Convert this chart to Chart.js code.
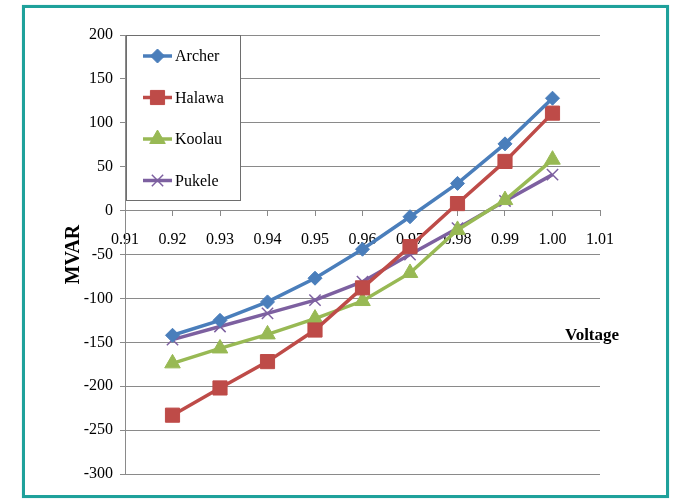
<!DOCTYPE html>
<html>
<head>
<meta charset="utf-8">
<script src="https://cdn.jsdelivr.net/npm/chart.js@4"></script>
<style>
  html, body { margin: 0; padding: 0; background: #ffffff; }
  #wrap { position: relative; width: 674px; height: 499px; }
  #frame {
    position: absolute; left: 22px; top: 5px; width: 641px; height: 487px;
    border: 3px solid #1fa19b; box-shadow: 0 0 1px #9fd6d3;
  }
  canvas { position: absolute; left: 0; top: 0; }
</style>
</head>
<body>
<div id="wrap">
  <div id="frame"></div>
  <canvas id="chart" width="674" height="499"></canvas>
</div>
<script>
// Reactive power (MVAR) against bus voltage (p.u.)
const voltages = [0.92, 0.93, 0.94, 0.95, 0.96, 0.97, 0.98, 0.99, 1.00];
const archer = [-142, -125, -104, -77, -44, -7, 31, 76, 128];
const halawa = [-233, -202, -172, -136, -88, -41, 8, 56, 111];
const koolau = [-174, -157, -141, -123, -103, -71, -22, 12, 58];
const pukele = [-147, -132, -117, -102, -81, -50, -20, 11, 41];

const xMin = 0.91, xMax = 1.01, xStep = 0.01;
const yMin = -300, yMax = 200, yStep = 50;

const SERIF = '"Liberation Serif", "Times New Roman", serif';
const GRID = '#8a8a8a';

function pts(values) {
  return voltages.map((v, i) => ({ x: v, y: values[i] }));
}

function series(label, values, color, style, radius, bw) {
  return {
    label,
    data: pts(values),
    borderColor: color,
    backgroundColor: color,
    pointBackgroundColor: color,
    pointBorderColor: color,
    pointStyle: style,
    pointRadius: radius,
    pointHoverRadius: radius,
    pointBorderWidth: bw,
    borderWidth: 3.5,
    tension: 0,
    fill: false
  };
}

// Legend box drawn inside the plot, top-left corner
const insideLegend = {
  id: 'insideLegend',
  afterDatasetsDraw(chart) {
    const { ctx, chartArea } = chart;
    const left = chartArea.left + 1, top = chartArea.top;
    const w = 114, h = 165;
    ctx.save();
    ctx.fillStyle = '#ffffff';
    ctx.fillRect(left, top, w, h);
    ctx.strokeStyle = '#6e6e6e';
    ctx.lineWidth = 1;
    ctx.strokeRect(left + 0.5, top + 0.5, w, h);
    chart.data.datasets.forEach((ds, i) => {
      const cy = top + 21 + i * 41.5;
      const x0 = left + 17, x1 = left + 46;
      ctx.strokeStyle = ds.borderColor;
      ctx.lineWidth = 3.5;
      ctx.beginPath();
      ctx.moveTo(x0, cy);
      ctx.lineTo(x1, cy);
      ctx.stroke();
      ctx.fillStyle = ds.pointBackgroundColor;
      ctx.strokeStyle = ds.pointBorderColor;
      ctx.lineWidth = ds.pointBorderWidth;
      Chart.helpers.drawPoint(ctx, {
        pointStyle: ds.pointStyle,
        radius: ds.pointRadius,
        borderWidth: ds.pointBorderWidth,
        rotation: 0
      }, (x0 + x1) / 2, cy);
      ctx.fillStyle = '#000000';
      ctx.font = '16px ' + SERIF;
      ctx.textAlign = 'left';
      ctx.textBaseline = 'middle';
      ctx.fillText(ds.label, x1 + 3, cy + 1);
    });
    ctx.restore();
  }
};

// Horizontal axis caption placed at the right of the plot
const voltageCaption = {
  id: 'voltageCaption',
  afterDraw(chart) {
    const { ctx, chartArea } = chart;
    ctx.save();
    ctx.fillStyle = '#000000';
    ctx.font = 'bold 17px ' + SERIF;
    ctx.textAlign = 'center';
    ctx.textBaseline = 'middle';
    ctx.fillText('Voltage', chartArea.right - 8, chartArea.top + 301);
    ctx.restore();
  }
};

new Chart(document.getElementById('chart'), {
  type: 'line',
  data: {
    datasets: [
      series('Archer', archer, '#4a7ebb', 'rectRot', 7, 1),
      series('Halawa', halawa, '#be4b48', 'rect', 10, 1),
      series('Koolau', koolau, '#98b954', 'triangle', 9, 1),
      series('Pukele', pukele, '#7d60a0', 'crossRot', 8, 1.5)
    ]
  },
  options: {
    responsive: false,
    animation: false,
    events: [],
    layout: { padding: { left: 0, top: 35, right: 74, bottom: 25 } },
    plugins: {
      legend: { display: false },
      tooltip: { enabled: false }
    },
    scales: {
      x: {
        type: 'linear',
        position: { y: 0 },
        min: xMin,
        max: xMax,
        ticks: {
          stepSize: xStep,
          padding: 15,
          color: '#000000',
          font: { family: SERIF, size: 16 },
          maxRotation: 0,
          autoSkip: false,
          callback: v => Number(v).toFixed(2)
        },
        grid: {
          drawOnChartArea: false,
          drawTicks: true,
          tickLength: 5,
          color: GRID
        },
        border: { color: GRID, width: 1 }
      },
      y: {
        type: 'linear',
        min: yMin,
        max: yMax,
        afterFit(scale) { scale.width = 125; },
        ticks: {
          stepSize: yStep,
          padding: 7,
          color: '#000000',
          font: { family: SERIF, size: 16 }
        },
        grid: {
          color: GRID,
          tickLength: 5,
          drawTicks: true
        },
        border: { color: GRID, width: 1 },
        title: {
          display: true,
          text: 'MVAR',
          color: '#000000',
          font: { family: SERIF, size: 20, weight: 'bold' },
          padding: { top: 62, bottom: 0 }
        }
      }
    }
  },
  plugins: [insideLegend, voltageCaption]
});
</script>
</body>
</html>
